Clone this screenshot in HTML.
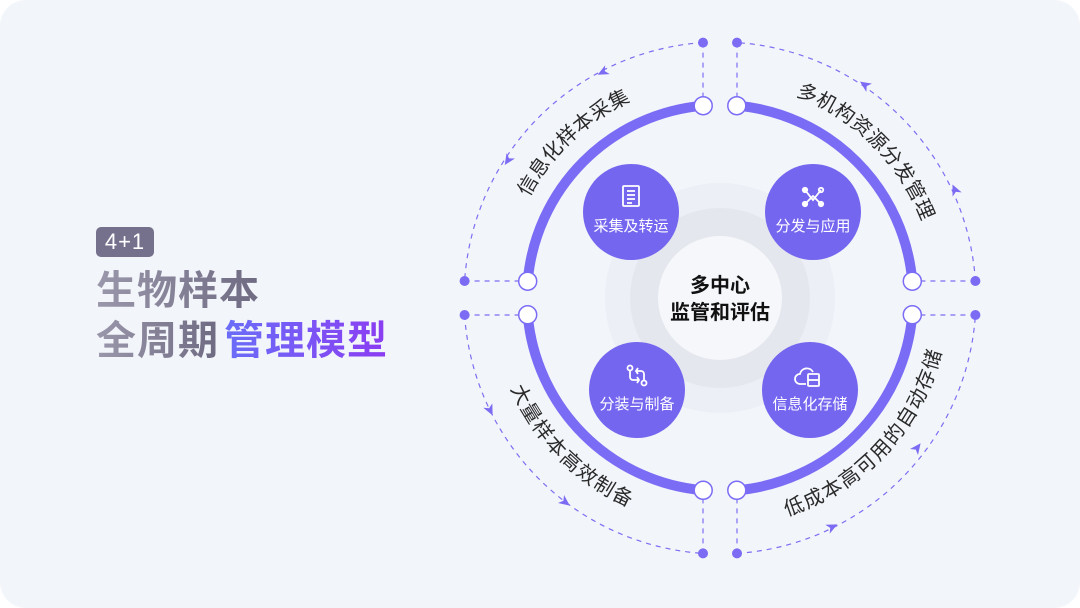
<!DOCTYPE html>
<html><head><meta charset="utf-8"><style>
html,body{margin:0;padding:0;background:#fff;}
body{width:1080px;height:608px;overflow:hidden;position:relative;font-family:"Liberation Sans","Noto Sans CJK SC",sans-serif;}
.card{position:absolute;left:0;top:0;width:1080px;height:608px;background:#f2f5fa;border-radius:26px;}
.badge{position:absolute;left:96px;top:227px;width:58px;height:30px;background:#75718c;border-radius:5px;color:#fff;font-size:22px;line-height:30px;text-align:center;letter-spacing:1px;}
.t{position:absolute;left:96px;font-size:40px;font-weight:bold;line-height:46px;letter-spacing:1px;white-space:nowrap;}
.g1{background:linear-gradient(90deg,#9a97ab,#6e6a82);-webkit-background-clip:text;background-clip:text;color:transparent;}
.g2{background:linear-gradient(90deg,#6a6ef8,#8b3cf2);-webkit-background-clip:text;background-clip:text;color:transparent;margin-left:5px;}
</style></head><body>
<div class="card"></div>
<div class="badge">4+1</div>
<div class="t" style="top:268px"><span class="g1">生物样本</span></div>
<div class="t" style="top:318px"><span class="g1">全周期</span><span class="g2">管理模型</span></div>
<svg width="1080" height="608" style="position:absolute;left:0;top:0" font-family="Liberation Sans, Noto Sans CJK SC, sans-serif">
<defs>
<path id="p1" d="M 498,298 A 222 222 0 0 1 720,76"/>
<path id="p2" d="M 720,76 A 222 222 0 0 1 942,298"/>
<path id="p3" d="M 720,520 A 222 222 0 0 0 942,298"/>
<path id="p4" d="M 498,298 A 222 222 0 0 0 720,520"/>
</defs>
<circle cx="720" cy="298" r="115" fill="#eceff5"/>
<circle cx="720" cy="298" r="90" fill="#e5e7ee"/>
<circle cx="720" cy="298" r="62" fill="#f6f7fb"/>
<text x="720" y="292" text-anchor="middle" font-size="20" font-weight="bold" fill="#111">多中心</text>
<text x="720" y="319" text-anchor="middle" font-size="20" font-weight="bold" fill="#111">监管和评估</text>
<g fill="none" stroke="#7d6ef2" stroke-width="1.2" stroke-dasharray="5,5">
<path d="M 703,42.6 A 256 256 0 0 0 464.6,281"/>
<path d="M 975.4,281 A 256 256 0 0 0 737,42.6"/>
<path d="M 737,553.4 A 256 256 0 0 0 975.4,315"/>
<path d="M 464.6,315 A 256 256 0 0 0 703,553.4"/>
<path d="M703,42.6V105.7 M737,42.6V105.7 M703,553.4V490.3 M737,553.4V490.3 M464.6,281H527.7 M464.6,315H527.7 M975.4,281H912.3 M975.4,315H912.3"/>
</g>
<g fill="#7b6cf3">
<circle cx="703" cy="42.6" r="5"/><circle cx="737" cy="42.6" r="5"/>
<circle cx="703" cy="553.4" r="5"/><circle cx="737" cy="553.4" r="5"/>
<circle cx="464.6" cy="281" r="5"/><circle cx="464.6" cy="315" r="5"/>
<circle cx="975.4" cy="281" r="5"/><circle cx="975.4" cy="315" r="5"/>
</g>
<g fill="#7b6cf3">
<path transform="translate(603,72) rotate(153)" d="M6,0 L-5,-5 L-2,0 L-5,5Z"/>
<path transform="translate(508,160) rotate(123)" d="M6,0 L-5,-5 L-2,0 L-5,5Z"/>
<path transform="translate(865,85) rotate(214)" d="M6,0 L-5,-5 L-2,0 L-5,5Z"/>
<path transform="translate(955,190) rotate(245)" d="M6,0 L-5,-5 L-2,0 L-5,5Z"/>
<path transform="translate(490,410) rotate(64)" d="M6,0 L-5,-5 L-2,0 L-5,5Z"/>
<path transform="translate(565,502) rotate(37)" d="M6,0 L-5,-5 L-2,0 L-5,5Z"/>
<path transform="translate(832,527) rotate(-26)" d="M6,0 L-5,-5 L-2,0 L-5,5Z"/>
<path transform="translate(917,448) rotate(-53)" d="M6,0 L-5,-5 L-2,0 L-5,5Z"/>
</g>
<g fill="none" stroke="#7b6cf5" stroke-width="10">
<path d="M 912.3,314.8 A 193 193 0 0 1 736.8,490.3"/>
<path d="M 703.2,490.3 A 193 193 0 0 1 527.7,314.8"/>
<path d="M 527.7,281.2 A 193 193 0 0 1 703.2,105.7"/>
<path d="M 736.8,105.7 A 193 193 0 0 1 912.3,281.2"/>
</g>
<g fill="#fff" stroke="#7b6cf5" stroke-width="1.5">
<circle cx="912.3" cy="314.8" r="9"/><circle cx="736.8" cy="490.3" r="9"/>
<circle cx="703.2" cy="490.3" r="9"/><circle cx="527.7" cy="314.8" r="9"/>
<circle cx="527.7" cy="281.2" r="9"/><circle cx="703.2" cy="105.7" r="9"/>
<circle cx="736.8" cy="105.7" r="9"/><circle cx="912.3" cy="281.2" r="9"/>
</g>
<g font-size="20" fill="#2a2a2a" letter-spacing="1">
<text dominant-baseline="central"><textPath href="#p1" startOffset="52%" text-anchor="middle">信息化样本采集</textPath></text>
<text dominant-baseline="central"><textPath href="#p2" startOffset="50%" text-anchor="middle">多机构资源分发管理</textPath></text>
<text dominant-baseline="central"><textPath href="#p3" startOffset="52%" text-anchor="middle">低成本高可用的自动存储</textPath></text>
<text dominant-baseline="central"><textPath href="#p4" startOffset="50%" text-anchor="middle">大量样本高效制备</textPath></text>
</g>
<g fill="#7566f0">
<circle cx="631" cy="212" r="48"/><circle cx="813" cy="212" r="48"/>
<circle cx="637" cy="390" r="48"/><circle cx="810" cy="390" r="48"/>
</g>
<g font-size="15" fill="#fff" text-anchor="middle">
<text x="631" y="231">采集及转运</text>
<text x="813" y="231">分发与应用</text>
<text x="637" y="409">分装与制备</text>
<text x="810" y="409">信息化存储</text>
</g>
<g fill="none" stroke="#fff" stroke-width="1.8">
<rect x="623" y="186" width="16" height="20" rx="1"/>
<path d="M627,191h8M627,195h8M627,199h8M627,203h5"/>
<path d="M805,190 L813,200 L821,190 M805,204 L813,196 L821,204"/>
<circle cx="805" cy="190" r="2.2" fill="#fff"/><circle cx="821" cy="190" r="2.2"/>
<circle cx="805" cy="204" r="2.2" fill="#fff"/><circle cx="821" cy="204" r="2.2" fill="#fff"/>
<circle cx="630" cy="368" r="2.5"/><circle cx="644" cy="383" r="2.5"/>
<path d="M630,371v6a3,3 0 0 0 3,3h5 M644,380v-6a3,3 0 0 0 -3,-3h-5 M637,377l2,3l-2,3 M638,368l-2,3l2,3"/>
<path d="M806,384h-6a5,5 0 0 1 0,-10a7,7 0 0 1 13,-2"/>
<rect x="808" y="374" width="11" height="12" rx="1"/><path d="M808,380h11"/>
</g>
</svg>
</body></html>
